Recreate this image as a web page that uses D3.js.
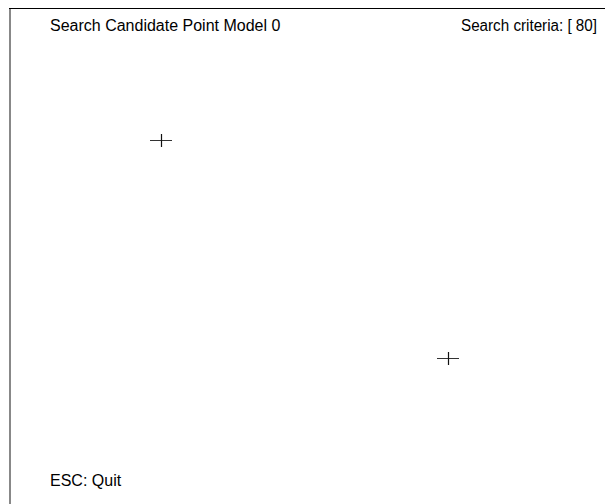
<!DOCTYPE html>
<html lang="en">
<head>
    <meta charset="utf-8">
    <title>search_candidate_points</title>
    <script type="text/javascript" src="https://d3js.org/d3.v7.min.js"></script>
    <style type="text/css">
        body { margin: 0; background: #fff; }
        text { font-family: "Liberation Sans", Arial, sans-serif; fill: #000; }
    </style>
</head>
<body>
<script type="text/javascript">

    // Candidate points found by the search, in window coordinates.
    var points_x = [151, 438];
    var points_y = [131, 349];
    var model_index = 0;
    var search_criteria = 80;

    var width = 605, height = 504;
    var win_left = 10, win_top = 9;

    var x = d3.scaleLinear().domain([0, width - win_left]).range([win_left, width]);
    var y = d3.scaleLinear().domain([0, height - win_top]).range([win_top, height]);

    var svg = d3.select("body")
        .append("svg")
        .attr("width", width)
        .attr("height", height);

    svg.append("rect")
        .attr("width", width)
        .attr("height", height)
        .attr("fill", "#fff");

    // window frame: gray left edge, black top edge
    svg.append("line")
        .attr("x1", 10).attr("y1", 8)
        .attr("x2", 10).attr("y2", height)
        .attr("stroke", "#888")
        .attr("stroke-width", 2);
    svg.append("line")
        .attr("x1", 9).attr("y1", 8.5)
        .attr("x2", width).attr("y2", 8.5)
        .attr("stroke", "#000")
        .attr("stroke-width", 1);

    svg.append("text")
        .attr("x", 50).attr("y", 31)
        .attr("font-size", 16)
        .text("Search Candidate Point Model " + model_index);

    svg.append("text")
        .attr("x", 461).attr("y", 31)
        .attr("font-size", 16)
        .attr("textLength", 136)
        .attr("lengthAdjust", "spacingAndGlyphs")
        .text("Search criteria: [ " + search_criteria + "]");

    svg.append("text")
        .attr("x", 50).attr("y", 486)
        .attr("font-size", 16)
        .text("ESC: Quit");

    var pts = points_x.map(function (d, i) { return {x: points_x[i], y: points_y[i]}; });

    var marks = svg.selectAll("g.mark")
        .data(pts)
        .enter()
        .append("g")
        .attr("class", "mark")
        .attr("transform", d => "translate(" + x(d.x) + "," + y(d.y) + ")");

    marks.append("line")
        .attr("x1", -11).attr("x2", 11)
        .attr("y1", 0.5).attr("y2", 0.5)
        .attr("stroke", "#333")
        .attr("stroke-width", 1);
    marks.append("line")
        .attr("x1", 0.5).attr("x2", 0.5)
        .attr("y1", -6).attr("y2", 7)
        .attr("stroke", "#111")
        .attr("stroke-width", 1.2);

</script>
</body>
</html>
